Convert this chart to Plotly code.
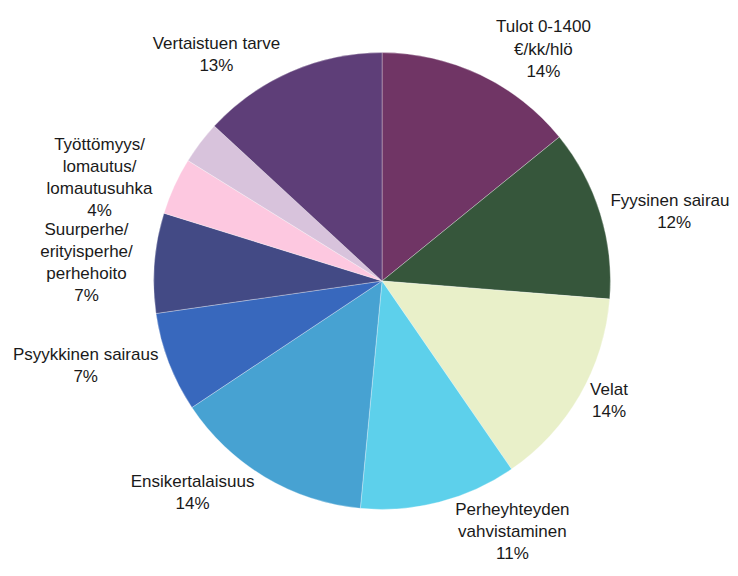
import plotly.graph_objects as go

labels = [
    "Tulot 0-1400<br>€/kk/hlö",
    "Fyysinen sairaus",
    "Velat",
    "Perheyhteyden<br>vahvistaminen",
    "Ensikertalaisuus",
    "Psyykkinen sairaus",
    "Suurperhe/<br>erityisperhe/<br>perhehoito",
    "Työttömyys/<br>lomautus/<br>lomautusuhka",
    "Muu",
    "Vertaistuen tarve",
]
values = [14, 12, 14, 11, 14, 7, 7, 4, 3, 13]
shown = [True, True, True, True, True, True, True, True, False, True]
colors = ["#703565", "#36563b", "#e9f0c9", "#5dd0eb", "#47a2d2",
          "#3868bd", "#434a85", "#fdc8e0", "#d8c3dc", "#5e3e78"]

texts = [f"{l}<br>{v}%" if s else "" for l, v, s in zip(labels, values, shown)]

fig = go.Figure(go.Pie(
    labels=labels,
    values=values,
    text=texts,
    textinfo="text",
    textposition="outside",
    sort=False,
    direction="clockwise",
    rotation=0,
    marker=dict(colors=colors, line=dict(color="rgba(255,255,255,0.5)", width=0.6)),
    textfont=dict(family="Liberation Sans, Arial, sans-serif", size=17, color="#1a1a1a"),
    domain=dict(x=[0.1952, 0.8158], y=[0.1285, 0.9236]),
    showlegend=False,
    hoverinfo="label+percent",
))

fig.update_layout(
    width=738, height=576,
    margin=dict(l=0, r=0, t=0, b=0),
    paper_bgcolor="white",
    plot_bgcolor="white",
)

hide_lines = (
    "var s=document.createElement('style');"
    "s.textContent='path.textline{display:none !important;}';"
    "document.head.appendChild(s);"
)
fig.write_html("out.html", post_script=hide_lines)
